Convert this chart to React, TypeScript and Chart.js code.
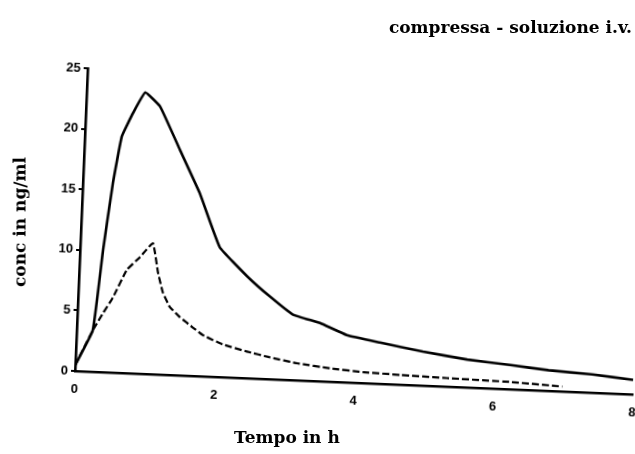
import React, { useEffect, useRef } from "react";
import { Chart, registerables } from "chart.js";

Chart.register(...registerables);

// Solid curve (higher peak)
const solidTime = [0, 0.23, 0.33, 0.43, 0.53, 0.68, 0.84, 1.06, 1.37, 1.68, 2.0, 2.41, 2.75, 3.09, 3.48, 3.87, 4.35, 4.97, 5.61, 6.23, 6.78, 7.41, 8.0];
const solidConc = [0.5, 3.4, 10.1, 15.6, 19.5, 21.5, 23.2, 22.1, 18.6, 15.1, 10.7, 8.4, 6.8, 5.4, 4.8, 3.9, 3.4, 2.8, 2.3, 2.0, 1.7, 1.5, 1.2];

// Dashed curve (lower peak)
const dashedTime = [0, 0.23, 0.37, 0.5, 0.68, 0.86, 1.04, 1.13, 1.21, 1.32, 1.47, 1.66, 1.81, 2.1, 2.45, 2.78, 3.18, 3.65, 4.13, 4.66, 5.33, 6.24, 6.99];
const dashedConc = [0.5, 3.4, 4.9, 6.2, 8.5, 9.6, 10.8, 8.4, 6.8, 5.6, 4.8, 4.0, 3.4, 2.7, 2.2, 1.8, 1.4, 1.1, 0.9, 0.8, 0.7, 0.6, 0.4];

const xTicks = [0, 2, 4, 6, 8];
const yTicks = [0, 5, 10, 15, 20, 25];

const chartTitle = "compressa - soluzione i.v.";
const xTitle = "Tempo in h";
const yTitle = "conc in ng/ml";

const serif = "'DejaVu Serif', 'Liberation Serif', serif";

export default function App() {
  const canvasRef = useRef<HTMLCanvasElement | null>(null);

  useEffect(() => {
    if (!canvasRef.current) return;
    const tickFont = { family: "'Liberation Sans', Arial, sans-serif", weight: "bold" as const, size: 13 };
    const chart = new Chart(canvasRef.current, {
      type: "line",
      data: {
        datasets: [
          {
            label: "compressa",
            data: solidTime.map((t, i) => ({ x: t, y: solidConc[i] })),
            borderColor: "#000",
            borderWidth: 2.6,
            pointRadius: 0,
            tension: 0.1,
            fill: false,
          },
          {
            label: "soluzione i.v.",
            data: dashedTime.map((t, i) => ({ x: t, y: dashedConc[i] })),
            borderColor: "#000",
            borderWidth: 2.2,
            borderDash: [7, 3],
            pointRadius: 0,
            tension: 0.1,
            fill: false,
          },
        ],
      },
      options: {
        animation: false,
        responsive: false,
        devicePixelRatio: 1,
        layout: { padding: { left: 35, right: 67, top: 68, bottom: 53 } },
        plugins: {
          legend: { display: false },
          title: { display: false },
          tooltip: { enabled: false },
        },
        scales: {
          x: {
            type: "linear",
            min: 0,
            max: 8,
            afterBuildTicks: (s: any) => {
              s.ticks = xTicks.map((v) => ({ value: v }));
            },
            afterFit: (s: any) => {
              s.height = 30;
            },
            grid: { display: false },
            border: { display: true, color: "#000", width: 2.6 },
            ticks: { color: "#000", font: tickFont, padding: 3 },
          },
          y: {
            type: "linear",
            min: 0,
            max: 25,
            afterBuildTicks: (s: any) => {
              s.ticks = yTicks.map((v) => ({ value: v }));
            },
            afterFit: (s: any) => {
              s.width = 40;
            },
            grid: { display: true, drawOnChartArea: false, drawTicks: true, tickLength: 4, color: "#000", lineWidth: 2 },
            border: { display: true, color: "#000", width: 2.6 },
            ticks: { color: "#000", font: tickFont, padding: 3 },
          },
        },
      },
    });
    return () => chart.destroy();
  }, []);

  return (
    <div
      style={{
        position: "fixed",
        left: 0,
        top: 0,
        width: 635,
        height: 454,
        overflow: "hidden",
        background: "#fff",
      }}
    >
      <canvas
        ref={canvasRef}
        width={700}
        height={454}
        style={{
          position: "absolute",
          left: 0,
          top: 0,
          width: 700,
          height: 454,
          transform: "rotate(2.4deg)",
          transformOrigin: "75px 371px",
        }}
      />
      <div
        style={{
          position: "absolute",
          right: 3,
          top: 19,
          font: `bold 17px ${serif}`,
          lineHeight: "17px",
          color: "#000",
          whiteSpace: "nowrap",
        }}
      >
        {chartTitle}
      </div>
      <div
        style={{
          position: "absolute",
          left: 234,
          top: 429,
          font: `bold 17px ${serif}`,
          lineHeight: "17px",
          color: "#000",
          whiteSpace: "nowrap",
        }}
      >
        {xTitle}
      </div>
      <div
        style={{
          position: "absolute",
          left: 20,
          top: 222,
          font: `bold 17px ${serif}`,
          lineHeight: "17px",
          color: "#000",
          whiteSpace: "nowrap",
          transform: "translate(-50%, -50%) rotate(-90deg)",
        }}
      >
        {yTitle}
      </div>
    </div>
  );
}
